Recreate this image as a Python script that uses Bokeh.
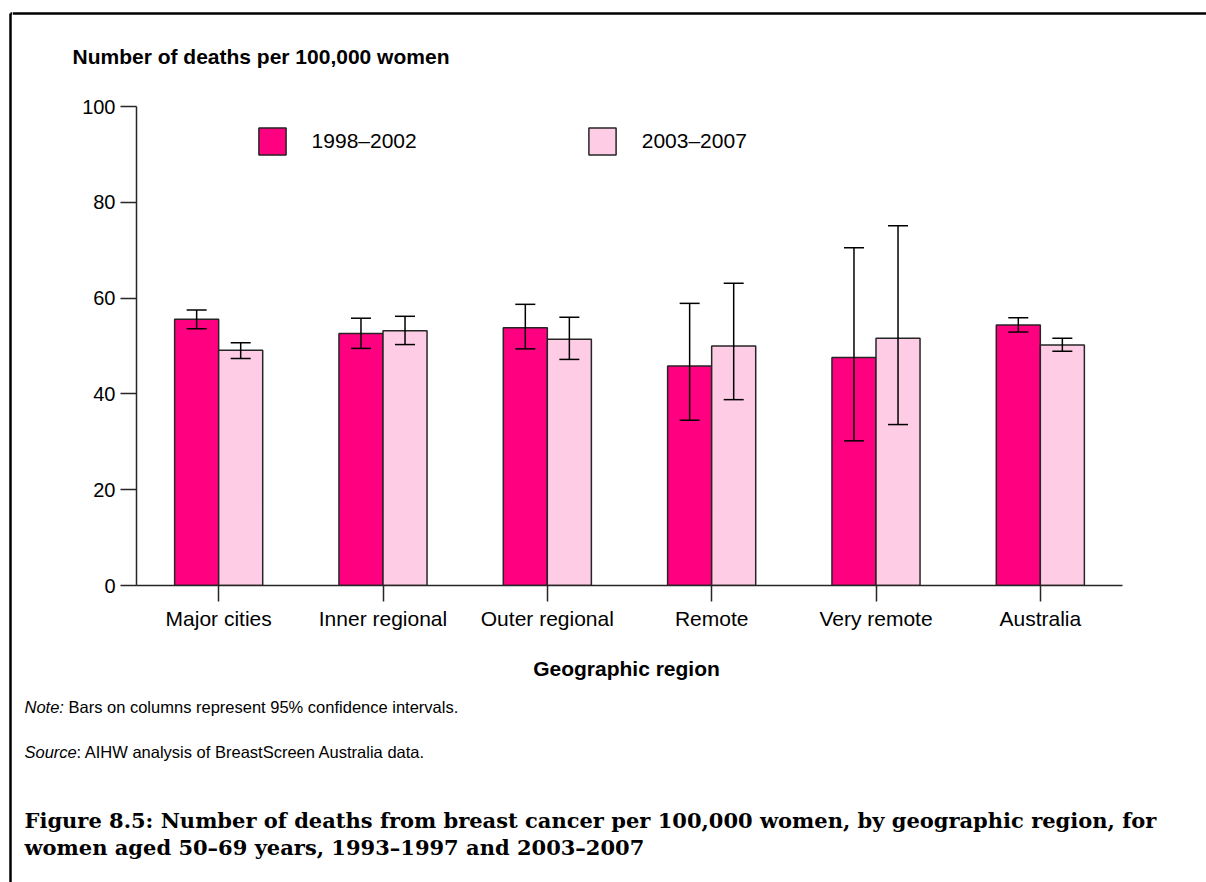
from bokeh.plotting import figure
from bokeh.layouts import column, row
from bokeh.models import (FactorRange, Range1d, ColumnDataSource, Whisker, TeeHead,
                          Legend, LegendItem)
from bokeh.core.properties import value
from bokeh.transform import dodge
from bokeh.embed import file_html
from bokeh.resources import INLINE

# ---- data ----
regions = ["Major cities", "Inner regional", "Outer regional", "Remote", "Very remote", "Australia"]
series_names = ["1998\u20132002", "2003\u20132007"]
rate_1998_2002 = [55.6, 52.6, 53.8, 45.8, 47.6, 54.4]
upper_1998_2002 = [57.5, 55.8, 58.7, 58.9, 70.5, 55.9]
lower_1998_2002 = [53.6, 49.5, 49.4, 34.5, 30.2, 52.9]
rate_2003_2007 = [49.1, 53.2, 51.4, 50.0, 51.6, 50.2]
upper_2003_2007 = [50.7, 56.2, 56.0, 63.1, 75.1, 51.6]
lower_2003_2007 = [47.4, 50.3, 47.2, 38.8, 33.6, 48.9]
y_ticks = [0, 20, 40, 60, 80, 100]

DARK = "#FF0080"
LIGHT = "#FFCCE6"
EDGE = "#262626"
SANS = "Liberation Sans"
SERIF = "DejaVu Serif"
BORDER_W = 2.5

W, H = 1206, 882
STRIP = 12
H_HEAD, H_MID = 86, 554
H_FOOT = H - H_HEAD - H_MID
CW = W - STRIP


def no_align(f):
    try:
        f.frame_align = False
    except Exception:
        pass


def blank(x0, y0, width, height):
    # a plain canvas whose data coordinates equal page pixel coordinates
    f = figure(width=width, height=height, x_range=Range1d(x0, x0 + width),
               y_range=Range1d(y0 + height, y0), x_axis_type=None, y_axis_type=None,
               title=None, min_border=0, output_backend="svg", toolbar_location=None)
    f.outline_line_color = None
    f.background_fill_color = "white"
    f.border_fill_color = "white"
    no_align(f)
    return f


def txt(f, x, y, s, size, style="normal", font=SANS, align="left", baseline="middle"):
    f.text(x=[x], y=[y], text=[s], text_font=value(font), text_font_size=f"{size}px",
           text_font_style=style, text_align=align, text_baseline=baseline, text_color="black")


# ---- left strip carrying the box edge (full height) ----
strip = blank(0, 0, STRIP, H)
strip.segment(x0=[10, 10], y0=[13, 13], x1=[10, STRIP], y1=[H, 13],
              line_color="black", line_width=BORDER_W)

# ---- header ----
head = blank(STRIP, 0, CW, H_HEAD)
head.segment(x0=[STRIP], y0=[13], x1=[W], y1=[13], line_color="black", line_width=BORDER_W)
txt(head, 72, 56, "Number of deaths per 100,000 women", 21, "bold")

# ---- main chart ----
src = ColumnDataSource(dict(region=regions, r1=rate_1998_2002, u1=upper_1998_2002, l1=lower_1998_2002,
                            r2=rate_2003_2007, u2=upper_2003_2007, l2=lower_2003_2007))

p = figure(x_range=FactorRange(*regions), y_range=Range1d(0, 100),
           width=CW, height=H_MID, output_backend="svg", toolbar_location=None, title=None,
           min_border_left=136 - STRIP, min_border_right=84, min_border_top=20, min_border_bottom=55)
p.outline_line_color = None
p.xgrid.visible = False
p.ygrid.visible = False
no_align(p)

OFF = 0.134
BW = 0.268
b1 = p.vbar(x=dodge("region", -OFF, range=p.x_range), top="r1", width=BW, source=src,
            fill_color=DARK, line_color=EDGE, line_width=1.5)
b2 = p.vbar(x=dodge("region", OFF, range=p.x_range), top="r2", width=BW, source=src,
            fill_color=LIGHT, line_color=EDGE, line_width=1.5)
for off, u, l in [(-OFF, "u1", "l1"), (OFF, "u2", "l2")]:
    w = Whisker(source=src, base=dodge("region", off, range=p.x_range), upper=u, lower=l,
                line_color="black", line_width=1.5,
                upper_head=TeeHead(size=20, line_color="black", line_width=1.5),
                lower_head=TeeHead(size=20, line_color="black", line_width=1.5))
    w.level = "overlay"
    p.add_layout(w)

for ax in (p.xaxis, p.yaxis):
    ax.major_tick_out = 16
    ax.major_tick_in = 0
    ax.minor_tick_out = 0
    ax.minor_tick_in = 0
    ax.major_label_text_font = SANS
    ax.major_label_text_font_size = "21px"
    ax.major_label_text_color = "black"
    ax.axis_line_color = EDGE
    ax.axis_line_width = 1.5
    ax.major_tick_line_color = EDGE
    ax.major_tick_line_width = 1.5
p.yaxis.ticker = y_ticks
p.yaxis.major_label_text_font_size = "20px"
p.yaxis.major_label_standoff = 5
p.xaxis.major_label_standoff = 5

legend = Legend(items=[LegendItem(label=series_names[0], renderers=[b1]),
                       LegendItem(label=series_names[1], renderers=[b2])],
                orientation="horizontal", location=(118.6, 427.5),
                glyph_width=34, glyph_height=34, label_standoff=23, spacing=168,
                padding=0, margin=0, border_line_color=None, background_fill_alpha=0,
                label_text_font=SANS, label_text_font_size="21px", label_text_color="black")
p.add_layout(legend, "center")

# ---- footer ----
Y0 = H_HEAD + H_MID
foot = blank(STRIP, Y0, CW, H_FOOT)
txt(foot, 626, 668, "Geographic region", 21, "bold", align="center")
txt(foot, 24, 706, "Note:", 16.5, "italic")
txt(foot, 68, 706, "Bars on columns represent 95% confidence intervals.", 16.5)
txt(foot, 24, 751, "Source", 16.5, "italic")
txt(foot, 76, 751, ": AIHW analysis of BreastScreen Australia data.", 16.5)
txt(foot, 24, 820,
    "Figure 8.5: Number of deaths from breast cancer per 100,000 women, by geographic region, for",
    21, "bold", font=SERIF, baseline="alphabetic")
txt(foot, 24, 847, "women aged 50\u201369 years, 1993\u20131997 and 2003\u20132007",
    21, "bold", font=SERIF, baseline="alphabetic")

layout = row(strip, column(head, p, foot, spacing=0), spacing=0)
open("out.html", "w").write(file_html(layout, INLINE))
